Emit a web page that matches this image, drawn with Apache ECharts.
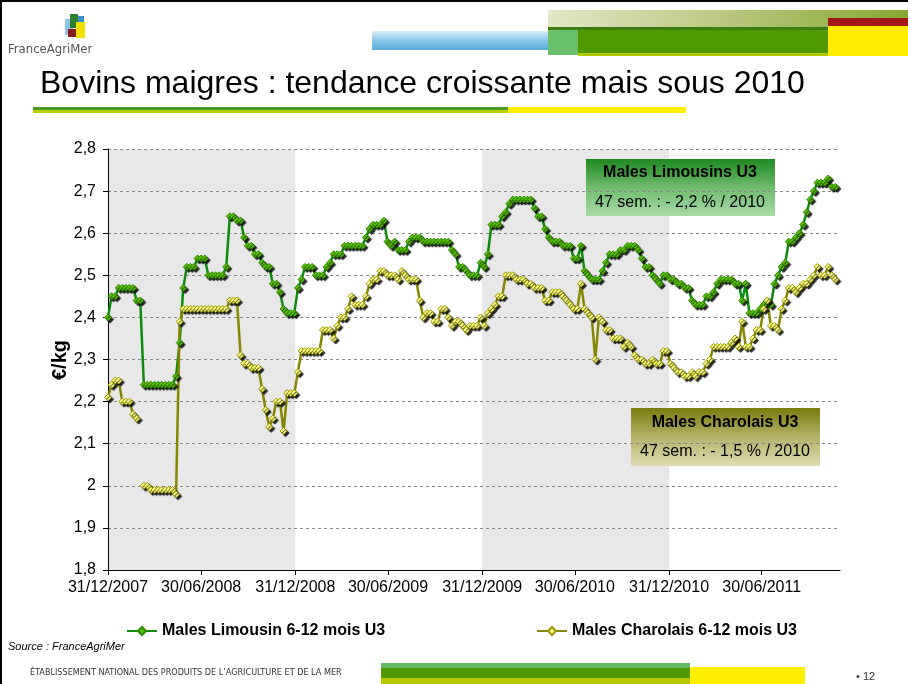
<!DOCTYPE html>
<html>
<head>
<meta charset="utf-8">
<script src="https://cdn.jsdelivr.net/npm/echarts@6/dist/echarts.min.js"></script>
<style>
html, body { margin: 0; padding: 0; background: #fff; }
#chart { width: 908px; height: 684px; }
</style>
</head>
<body>
<div id="chart"></div>
<script>
// prix hebdo €/kg, semaine 1 = 31/12/2007
var limousin = [
  2.40, 2.45, 2.45, 2.47, 2.47, 2.47, 2.47, 2.47, 2.44, 2.44,
  2.24, 2.24, 2.24, 2.24, 2.24, 2.24, 2.24, 2.24, 2.24, 2.26,
  2.34, 2.47, 2.52, 2.52, 2.52, 2.54, 2.54, 2.54, 2.50, 2.50,
  2.50, 2.50, 2.50, 2.52, 2.64, 2.64, 2.63, 2.63, 2.59, 2.57,
  2.57, 2.55, 2.55, 2.53, 2.52, 2.52, 2.48, 2.48, 2.46, 2.42,
  2.41, 2.41, 2.41, 2.47, 2.49, 2.52, 2.52, 2.52, 2.50, 2.50,
  2.50, 2.52, 2.53, 2.55, 2.55, 2.55, 2.57, 2.57, 2.57, 2.57,
  2.57, 2.57, 2.59, 2.61, 2.62, 2.62, 2.62, 2.63, 2.58, 2.57,
  2.58, 2.56, 2.56, 2.56, 2.58, 2.59, 2.59, 2.59, 2.58, 2.58,
  2.58, 2.58, 2.58, 2.58, 2.58, 2.58, 2.56, 2.55, 2.52, 2.52,
  2.51, 2.50, 2.50, 2.50, 2.53, 2.52, 2.55, 2.62, 2.62, 2.62,
  2.64, 2.65, 2.67, 2.68, 2.68, 2.68, 2.68, 2.68, 2.68, 2.66,
  2.64, 2.64, 2.61, 2.59, 2.58, 2.58, 2.58, 2.57, 2.57, 2.57,
  2.54, 2.54, 2.57, 2.51, 2.50, 2.49, 2.49, 2.49, 2.51, 2.53,
  2.55, 2.55, 2.55, 2.56, 2.56, 2.57, 2.57, 2.57, 2.56, 2.54,
  2.52, 2.52, 2.50, 2.49, 2.48, 2.50, 2.50, 2.49, 2.49, 2.48,
  2.48, 2.47, 2.47, 2.44, 2.43, 2.43, 2.43, 2.45, 2.45, 2.46,
  2.48, 2.49, 2.49, 2.49, 2.49, 2.48, 2.48, 2.44, 2.48, 2.41,
  2.41, 2.41, 2.42, 2.43, 2.44, 2.43, 2.48, 2.50, 2.52, 2.53,
  2.58, 2.58, 2.59, 2.60, 2.62, 2.65, 2.68, 2.70, 2.72, 2.72,
  2.72, 2.73, 2.71, 2.71
];
var charolais = [
  2.21, 2.24, 2.25, 2.25, 2.20, 2.20, 2.20, 2.17, 2.16, null,
  2.00, 2.00, 1.99, 1.99, 1.99, 1.99, 1.99, 1.99, 1.99, 1.98,
  2.39, 2.42, 2.42, 2.42, 2.42, 2.42, 2.42, 2.42, 2.42, 2.42,
  2.42, 2.42, 2.42, 2.42, 2.44, 2.44, 2.44, 2.31, 2.29, 2.29,
  2.28, 2.28, 2.28, 2.23, 2.18, 2.14, 2.16, 2.20, 2.20, 2.13,
  2.22, 2.22, 2.22, 2.27, 2.32, 2.32, 2.32, 2.32, 2.32, 2.32,
  2.37, 2.37, 2.37, 2.35, 2.38, 2.40, 2.40, 2.42, 2.45, 2.43,
  2.43, 2.43, 2.45, 2.48, 2.49, 2.49, 2.51, 2.51, 2.50, 2.50,
  2.50, 2.49, 2.51, 2.50, 2.49, 2.49, 2.49, 2.44, 2.40, 2.41,
  2.41, 2.39, 2.39, 2.42, 2.42, 2.40, 2.38, 2.39, 2.39, 2.38,
  2.37, 2.38, 2.38, 2.38, 2.40, 2.38, 2.41, 2.42, 2.43, 2.45,
  2.45, 2.50, 2.50, 2.50, 2.49, 2.49, 2.49, 2.48, 2.48, 2.47,
  2.47, 2.47, 2.44, 2.44, 2.46, 2.46, 2.46, 2.45, 2.44, 2.43,
  2.42, 2.42, 2.48, 2.42, 2.41, 2.40, 2.30, 2.40, 2.39, 2.37,
  2.37, 2.35, 2.35, 2.35, 2.33, 2.34, 2.33, 2.31, 2.30, 2.30,
  2.29, 2.29, 2.30, 2.29, 2.29, 2.32, 2.32, 2.29, 2.28, 2.27,
  2.27, 2.26, 2.26, 2.27, 2.26, 2.27, 2.27, 2.29, 2.30, 2.33,
  2.33, 2.33, 2.33, 2.33, 2.34, 2.35, 2.33, 2.39, 2.33, 2.33,
  2.35, 2.37, 2.37, 2.42, 2.44, 2.38, 2.38, 2.37, 2.42, 2.44,
  2.47, 2.47, 2.46, 2.47, 2.48, 2.48, 2.49, 2.50, 2.52, 2.50,
  2.50, 2.52, 2.50, 2.49
];

// jours depuis le 31/12/2007
var tickDays = [0, 182, 366, 547, 731, 912, 1096, 1277];
var tickLabels = ['31/12/2007', '30/06/2008', '31/12/2008', '30/06/2009',
                  '31/12/2009', '30/06/2010', '31/12/2010', '30/06/2011'];
var bandDays = [[0, 366], [731, 1096]];   // 2008 et 2010 en gris

var FONT = '"Liberation Sans", Arial, sans-serif';
var NARROW = '"Liberation Sans Narrow", "DejaVu Sans Condensed", Arial, sans-serif';

function toPairs(arr) {
  return arr.map(function (v, i) { return [i * 7, v]; });
}

function rect(x, y, w, h, fill) {
  return { type: 'rect', shape: { x: x, y: y, width: w, height: h }, style: { fill: fill }, silent: true };
}
function grad(x, y, x2, y2, stops) {
  return { type: 'linear', x: x, y: y, x2: x2, y2: y2,
    colorStops: stops.map(function (c, i) { return { offset: i / (stops.length - 1), color: c }; }) };
}
function txt(x, y, s, size, opts) {
  opts = opts || {};
  return { type: 'text', x: x, y: y, rotation: opts.rotation || 0, silent: true, z: 10,
    style: { text: s, font: (opts.style || '') + ' ' + (opts.weight || 'normal') + ' ' + size + 'px ' + (opts.family || FONT),
      fill: opts.color || '#000', textAlign: opts.align || 'left', textVerticalAlign: 'middle' } };
}

var myChart = echarts.init(document.getElementById('chart'));

myChart.setOption({
  animation: false,
  backgroundColor: '#fff',
  grid: { left: 108, top: 149, width: 732, height: 421 },
  xAxis: {
    type: 'value',
    min: 0,
    max: 1430,
    z: 1.5,
    axisLine: { lineStyle: { color: '#000', width: 1 } },
    axisTick: { customValues: tickDays, length: 5, lineStyle: { color: '#000' } },
    axisLabel: {
      customValues: tickDays,
      margin: 10,
      fontSize: 16,
      fontFamily: FONT,
      color: '#000',
      formatter: function (v) { var k = tickDays.indexOf(Math.round(v)); return k < 0 ? '' : tickLabels[k]; }
    },
    splitLine: { show: false }
  },
  yAxis: {
    type: 'value',
    min: 1.8,
    max: 2.8,
    interval: 0.1,
    z: 1.5,
    axisLine: { show: true, lineStyle: { color: '#000', width: 1 } },
    axisTick: { show: true, length: 5, lineStyle: { color: '#000' } },
    axisLabel: {
      margin: 12,
      fontSize: 16,
      fontFamily: FONT,
      color: '#000',
      formatter: function (v) { return String(Math.round(v * 10) / 10).replace('.', ','); }
    },
    splitLine: { show: true, lineStyle: { color: '#8a8a8a', width: 1, type: [3, 3] } }
  },
  legend: [
    { data: ['Males Limousin 6-12 mois U3'], left: 121, top: 618, itemWidth: 30, itemHeight: 10,
      textStyle: { fontSize: 16, fontWeight: 'bold', fontFamily: FONT, color: '#000' } },
    { data: ['Males Charolais 6-12 mois U3'], left: 531, top: 618, itemWidth: 30, itemHeight: 10,
      textStyle: { fontSize: 16, fontWeight: 'bold', fontFamily: FONT, color: '#000' } }
  ],
  series: [
    {
      name: 'Males Limousin 6-12 mois U3',
      type: 'line',
      data: toPairs(limousin),
      symbol: 'diamond',
      symbolSize: 7,
      lineStyle: { color: '#0c8c0c', width: 2.5 },
      itemStyle: { color: '#5cc000', borderColor: '#2a8a00', borderWidth: 1,
        shadowColor: 'rgba(0,0,0,0.85)', shadowOffsetX: 2, shadowOffsetY: 2, shadowBlur: 1 },
      markArea: {
        silent: true,
        z: -1,
        itemStyle: { color: '#e8e8e8' },
        data: bandDays.map(function (b) { return [{ xAxis: b[0] }, { xAxis: b[1] }]; })
      }
    },
    {
      name: 'Males Charolais 6-12 mois U3',
      type: 'line',
      data: toPairs(charolais),
      symbol: 'diamond',
      symbolSize: 7,
      connectNulls: false,
      lineStyle: { color: '#858500', width: 2.5 },
      itemStyle: { color: '#ffff88', borderColor: '#9a9a00', borderWidth: 1,
        shadowColor: 'rgba(0,0,0,0.85)', shadowOffsetX: 2, shadowOffsetY: 2, shadowBlur: 1 }
    }
  ],
  graphic: [
    // cadre
    rect(0, 0, 908, 2, '#000'),
    rect(0, 0, 2, 684, '#000'),
    // bandeau haut
    rect(372, 31, 176, 19, grad(0, 0, 0, 1, ['#d8eef9', '#8cc6ea', '#5aa8dc'])),
    rect(548, 10, 360, 18, grad(0, 0, 1, 0, ['#e3e6c8', '#b9c77e', '#86a832'])),
    rect(548, 27, 280, 3, '#3f7d14'),
    rect(548, 30, 30, 25, '#6abf6a'),
    rect(578, 30, 250, 23, '#4f9a00'),
    rect(578, 53, 250, 3, '#b6c800'),
    rect(828, 18, 80, 8, '#a3161a'),
    rect(828, 26, 80, 30, '#ffec00'),
    // logo
    rect(65, 19, 8, 16, '#8cc3e6'),
    rect(70, 14, 8, 14, '#2f7f2f'),
    rect(76, 22, 9, 16, '#f2e000'),
    rect(68, 29, 8, 8, '#8b1c1c'),
    rect(78, 16, 6, 6, '#3d8fd0'),
    txt(8, 50, 'FranceAgriMer', 13, { family: NARROW, color: '#555' }),
    // titre
    txt(40, 84, 'Bovins maigres : tendance croissante mais sous 2010', 32),
    rect(33, 107, 475, 3, '#4a9a24'),
    rect(33, 110, 475, 3, '#b8d000'),
    rect(508, 107, 178, 6, '#ffee00'),
    // unité axe Y
    txt(60, 360, '€/kg', 20, { weight: 'bold', align: 'center', rotation: Math.PI / 2 }),
    // encadrés
    rect(586, 159, 189, 57, grad(0, 0, 0, 1, ['#1f8a1f', '#6fbb6f', '#a9d9a6'])),
    txt(680, 173, 'Males Limousins U3', 16, { weight: 'bold', align: 'center' }),
    txt(680, 203, '47 sem. : - 2,2 % / 2010', 16, { align: 'center' }),
    rect(631, 408, 189, 58, grad(0, 0, 0, 1, ['#7a7a0c', '#b5b26a', '#dedcb0'])),
    txt(725, 423, 'Males Charolais U3', 16, { weight: 'bold', align: 'center' }),
    txt(725, 452, '47 sem. : - 1,5 % / 2010', 16, { align: 'center' }),
    // pied de page
    txt(8, 647, 'Source : FranceAgriMer', 11, { style: 'italic', color: '#000' }),
    txt(30, 673, 'ÉTABLISSEMENT NATIONAL DES PRODUITS DE L\u2019AGRICULTURE ET DE LA MER', 9, { family: NARROW, color: '#333' }),
    rect(381, 663, 309, 5, '#66bb66'),
    rect(381, 668, 309, 10, '#4f9a00'),
    rect(381, 678, 309, 6, '#b8c800'),
    rect(690, 667, 115, 17, '#ffee00'),
    txt(856, 677, '\u2022 12', 11, { color: '#333' })
  ]
});
</script>
</body>
</html>
